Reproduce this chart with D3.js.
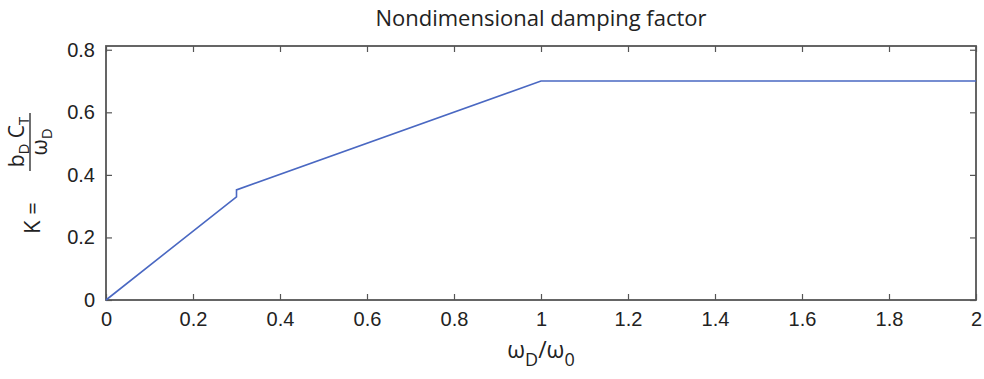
<!DOCTYPE html>
<html>
<head>
<meta charset="utf-8">
<script src="https://cdn.jsdelivr.net/npm/d3@7"></script>
<style>
  body { margin: 0; background: #fff; }
  svg text { fill: #222; }
</style>
</head>
<body>
<div id="chart"></div>
<script>

// data
var freqRatio = [0, 0.3, 0.3, 1, 2];
var kValues = [0, 0.33, 0.352, 0.7, 0.7];
var xTicks = [0, 0.2, 0.4, 0.6, 0.8, 1, 1.2, 1.4, 1.6, 1.8, 2];
var yTicks = [0, 0.2, 0.4, 0.6, 0.8];

var width = 984,
    height = 379,
    plotLeft = 106,
    plotRight = 976,
    plotTop = 46,
    plotBottom = 300;

var svg = d3.select("#chart")
            .append("svg")
            .attr("width", width)
            .attr("height", height);

var x = d3.scaleLinear().domain([0, 2]).range([plotLeft, plotRight]);
var y = d3.scaleLinear().domain([0, 0.812]).range([plotBottom, plotTop]);

var tickFont = "'Liberation Sans', Arial, sans-serif";
var labelFont = "'Open Sans', 'Noto Sans', sans-serif";

// axes: ticks point inwards on all four sides, like matlab
function styleAxis(g) {
  g.select(".domain").remove();
  g.selectAll(".tick line").attr("stroke", "#555").attr("stroke-width", 1.2);
  g.selectAll("text").style("font-family", tickFont).style("font-size", "20px").attr("fill", "#222");
}

svg.append("g")
   .attr("transform", "translate(0," + plotBottom + ")")
   .call(d3.axisBottom(x).tickValues(xTicks).tickFormat(d3.format("~g")).tickSizeInner(-6).tickPadding(12))
   .call(styleAxis);

svg.append("g")
   .attr("transform", "translate(0," + plotTop + ")")
   .call(d3.axisTop(x).tickValues(xTicks).tickFormat("").tickSizeInner(-6))
   .call(styleAxis);

svg.append("g")
   .attr("transform", "translate(" + plotLeft + ",0)")
   .call(d3.axisLeft(y).tickValues(yTicks).tickFormat(d3.format("~g")).tickSizeInner(-6).tickPadding(11))
   .call(styleAxis);

svg.append("g")
   .attr("transform", "translate(" + plotRight + ",0)")
   .call(d3.axisRight(y).tickValues(yTicks).tickFormat("").tickSizeInner(-6))
   .call(styleAxis);

// box around plot area
svg.append("rect")
   .attr("x", plotLeft)
   .attr("y", plotTop)
   .attr("width", plotRight - plotLeft)
   .attr("height", plotBottom - plotTop)
   .attr("fill", "none")
   .attr("stroke", "#555")
   .attr("stroke-width", 1.8);

// the damping curve
var line = d3.line()
             .x(function(d) { return x(d[0]); })
             .y(function(d) { return y(d[1]); });

svg.append("path")
   .datum(d3.zip(freqRatio, kValues))
   .attr("d", line)
   .attr("fill", "none")
   .attr("stroke", "#4a68c2")
   .attr("stroke-width", 1.6);

// title
svg.append("text")
   .attr("x", (plotLeft + plotRight) / 2)
   .attr("y", 26)
   .attr("text-anchor", "middle")
   .style("font-family", labelFont)
   .style("font-size", "22px")
   .text("Nondimensional damping factor");

// x label: omega_D / omega_0
var xl = svg.append("text")
            .attr("x", x(1))
            .attr("y", 358)
            .attr("text-anchor", "middle")
            .style("font-family", labelFont)
            .style("font-size", "23px");
xl.append("tspan").text("ω");
xl.append("tspan").attr("dy", 8).style("font-size", "18px").text("D");
xl.append("tspan").attr("dy", -8).text("/ω");
xl.append("tspan").attr("dy", 8).style("font-size", "18px").text("0");

// y label: K = b_D C_T / omega_D, rotated
var yl = svg.append("g")
            .attr("transform", "rotate(-90)")
            .style("font-family", labelFont);

yl.append("text")
  .attr("x", -234)
  .attr("y", 40)
  .style("font-size", "22px")
  .text("K  =");

var num = yl.append("text")
            .attr("x", -142)
            .attr("y", 24)
            .attr("text-anchor", "middle")
            .style("font-size", "21px");
num.append("tspan").text("b");
num.append("tspan").attr("dy", 5).style("font-size", "15px").text("D");
num.append("tspan").attr("dy", -5).text(" C");
num.append("tspan").attr("dy", 5).style("font-size", "15px").text("T");

yl.append("line")
  .attr("x1", -171)
  .attr("x2", -113)
  .attr("y1", 30)
  .attr("y2", 30)
  .attr("stroke", "#222")
  .attr("stroke-width", 1.3);

var den = yl.append("text")
            .attr("x", -142)
            .attr("y", 47)
            .attr("text-anchor", "middle")
            .style("font-size", "21px");
den.append("tspan").text("ω");
den.append("tspan").attr("dy", 5).style("font-size", "15px").text("D");

</script>
</body>
</html>
